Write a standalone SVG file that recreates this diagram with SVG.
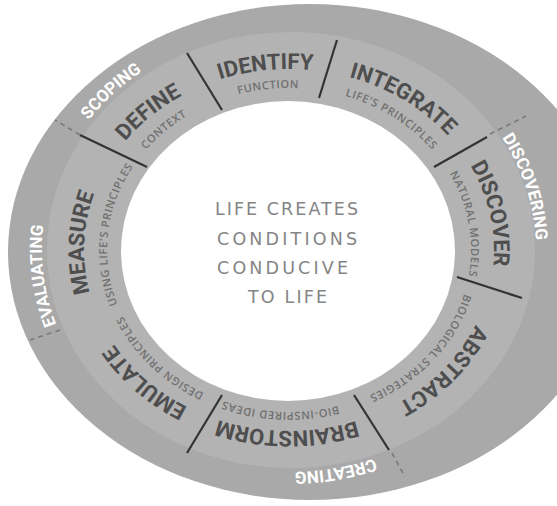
<svg xmlns="http://www.w3.org/2000/svg" width="557" height="506" viewBox="0 0 557 506">
<style>
.step{font-family:Roboto,"Liberation Sans",sans-serif;font-weight:700;font-size:22px;fill:#4e4e4e}
.sub{font-family:"Open Sans","Liberation Sans",sans-serif;font-weight:600;font-size:11px;fill:#707070;letter-spacing:0.6px}
.phase{font-family:Roboto,"Liberation Sans",sans-serif;font-weight:700;font-size:17px;fill:#ffffff}
.center{font-family:"DejaVu Sans","Open Sans",sans-serif;font-weight:400;font-size:17.5px;fill:#858585}
.div{stroke:#333333;stroke-width:2.2;fill:none}
.dash{stroke:#7a7a7a;stroke-width:1.6;stroke-dasharray:5 4;fill:none}
</style>
<defs>
<path id="p-identify" d="M152.6,114.9 A205,181 0 0 1 386.2,90.6"/>
<path id="p-integrate" d="M287.9,69 A205,181 0 0 1 481.3,187.2"/>
<path id="p-define" d="M88.3,213.3 A205,181 0 0 1 259.4,70.9"/>
<path id="p-discover" d="M431.4,119.8 A205,181 0 0 1 476.3,323.6"/>
<path id="p-abstract" d="M493.1,266.7 A205,181 0 0 1 341,425.1"/>
<path id="p-brainstorm" d="M404.8,399.3 A205,181 0 0 1 169.7,397.2"/>
<path id="p-emulate" d="M253,428.2 A205,181 0 0 1 87.1,281.1"/>
<path id="p-measure" d="M116.7,348 A205,181 0 0 1 125.7,140.6"/>
<path id="s-identify" d="M156.3,139.1 A182,162 0 0 1 388.7,114.4"/>
<path id="s-define" d="M107.9,233.6 A182,162 0 0 1 275.7,88.4"/>
<path id="s-integrate" d="M276.3,88.4 A182,162 0 0 1 465.6,210.8"/>
<path id="s-discover" d="M408.4,127.7 A182,162 0 0 1 445,333.4"/>
<path id="s-abstract" d="M471,247.2 A182,162 0 0 1 323.7,409"/>
<path id="s-brainstorm" d="M398.8,379.2 A182,162 0 0 1 165.1,368.7"/>
<path id="s-emulate" d="M263.7,410.4 A182,162 0 0 1 107.1,255.7"/>
<path id="s-measure" d="M138.8,341.5 A182,162 0 0 1 161.7,134.3"/>
<path id="o-scoping" d="M44.8,216.4 A247,222 0 0 1 240.6,32.3"/>
<path id="o-discovering" d="M444.4,77.5 A247,222 0 0 1 522.5,322.3"/>
<path id="o-creating" d="M467,403.9 A247,222 0 0 1 188.9,453"/>
<path id="o-evaluating" d="M103.7,396.8 A247,222 0 0 1 72.1,143.7"/>
</defs>
<rect width="557" height="506" fill="#ffffff"/>
<g id="ring">
<ellipse cx="310" cy="252" rx="302" ry="248" fill="#a9a9a9"/>
<ellipse cx="291" cy="250" rx="244" ry="218" fill="#b3b3b3"/>
<ellipse cx="288" cy="251" rx="167" ry="150" fill="#ffffff"/>
</g>
<g id="connectors">
<line class="div" x1="187" y1="53" x2="222" y2="110"/>
<line class="div" x1="337" y1="40" x2="319" y2="98"/>
<line class="div" x1="487" y1="137" x2="434" y2="167"/>
<line class="div" x1="457" y1="277" x2="522" y2="298"/>
<line class="div" x1="354" y1="395" x2="389" y2="450"/>
<line class="div" x1="222" y1="395" x2="187" y2="453"/>
<line class="div" x1="80" y1="135" x2="147" y2="167"/>
<line class="dash" x1="80" y1="135" x2="55" y2="120"/>
<line class="dash" x1="490" y1="134" x2="526" y2="116"/>
<line class="dash" x1="392" y1="453" x2="405" y2="477"/>
<line class="dash" x1="60" y1="330" x2="30" y2="340"/>
</g>
<g id="phase-scoping"><text class="phase"><textPath href="#o-scoping" startOffset="50%" text-anchor="middle">SCOPING</textPath></text></g>
<g id="phase-discovering"><text class="phase"><textPath href="#o-discovering" startOffset="50%" text-anchor="middle">DISCOVERING</textPath></text></g>
<g id="phase-creating"><text class="phase"><textPath href="#o-creating" startOffset="50%" text-anchor="middle">CREATING</textPath></text></g>
<g id="phase-evaluating"><text class="phase"><textPath href="#o-evaluating" startOffset="50%" text-anchor="middle">EVALUATING</textPath></text></g>
<g id="step-define">
<text class="step"><textPath href="#p-define" startOffset="50%" text-anchor="middle">DEFINE</textPath></text>
<text class="sub"><textPath href="#s-define" startOffset="50%" text-anchor="middle">CONTEXT</textPath></text>
</g>
<g id="step-identify">
<text class="step"><textPath href="#p-identify" startOffset="50%" text-anchor="middle">IDENTIFY</textPath></text>
<text class="sub"><textPath href="#s-identify" startOffset="50%" text-anchor="middle">FUNCTION</textPath></text>
</g>
<g id="step-integrate">
<text class="step"><textPath href="#p-integrate" startOffset="50%" text-anchor="middle">INTEGRATE</textPath></text>
<text class="sub"><textPath href="#s-integrate" startOffset="50%" text-anchor="middle">LIFE'S PRINCIPLES</textPath></text>
</g>
<g id="step-discover">
<text class="step"><textPath href="#p-discover" startOffset="50%" text-anchor="middle">DISCOVER</textPath></text>
<text class="sub"><textPath href="#s-discover" startOffset="50%" text-anchor="middle">NATURAL MODELS</textPath></text>
</g>
<g id="step-abstract">
<text class="step"><textPath href="#p-abstract" startOffset="50%" text-anchor="middle">ABSTRACT</textPath></text>
<text class="sub"><textPath href="#s-abstract" startOffset="50%" text-anchor="middle">BIOLOGICAL STRATEGIES</textPath></text>
</g>
<g id="step-brainstorm">
<text class="step"><textPath href="#p-brainstorm" startOffset="50%" text-anchor="middle">BRAINSTORM</textPath></text>
<text class="sub"><textPath href="#s-brainstorm" startOffset="50%" text-anchor="middle">BIO-INSPIRED IDEAS</textPath></text>
</g>
<g id="step-emulate">
<text class="step"><textPath href="#p-emulate" startOffset="50%" text-anchor="middle">EMULATE</textPath></text>
<text class="sub"><textPath href="#s-emulate" startOffset="50%" text-anchor="middle">DESIGN PRINCIPLES</textPath></text>
</g>
<g id="step-measure">
<text class="step"><textPath href="#p-measure" startOffset="50%" text-anchor="middle">MEASURE</textPath></text>
<text class="sub"><textPath href="#s-measure" startOffset="50%" text-anchor="middle">USING LIFE'S PRINCIPLES</textPath></text>
</g>
<g id="center">
<text class="center" x="286.5" y="215" text-anchor="middle" textLength="143" lengthAdjust="spacing">LIFE CREATES</text>
<text class="center" x="287" y="245" text-anchor="middle" textLength="140" lengthAdjust="spacing">CONDITIONS</text>
<text class="center" x="282.5" y="274" text-anchor="middle" textLength="131" lengthAdjust="spacing">CONDUCIVE</text>
<text class="center" x="287.5" y="303" text-anchor="middle" textLength="79" lengthAdjust="spacing">TO LIFE</text>
</g>
</svg>
